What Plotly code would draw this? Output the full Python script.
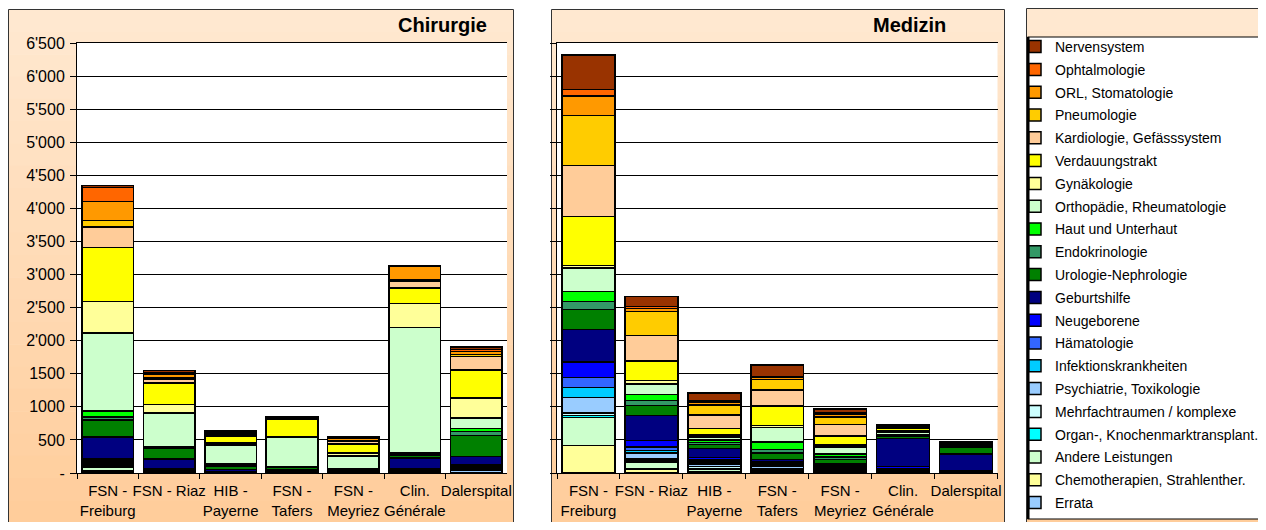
import plotly.graph_objects as go

# page is 1266x530 with the default 8px body margin -> figure 1250x514
OFF = 8
W, H = 1250, 514

# ---------------- data ----------------
hospitals = ["FSN - Freiburg", "FSN - Riaz", "HIB - Payerne", "FSN - Tafers",
             "FSN - Meyriez", "Clin. Générale", "Dalerspital"]
hospital_labels = ["FSN -<br>Freiburg", "FSN - Riaz", "HIB -<br>Payerne", "FSN -<br>Tafers",
                   "FSN -<br>Meyriez", "Clin.<br>Générale", "Dalerspital"]

y_tick_values = [0, 500, 1000, 1500, 2000, 2500, 3000, 3500, 4000, 4500, 5000, 5500, 6000, 6500]
y_tick_labels = ["-", "500", "1000", "1500", "2'000", "2'500", "3'000", "3'500",
                 "4'000", "4'500", "5'000", "5'500", "6'000", "6'500"]

# stacking order: bottom -> top
categories = ["Errata", "Chemotherapien, Strahlenther.", "Andere Leistungen",
              "Organ-, Knochenmarktransplant.", "Mehrfachtraumen / komplexe",
              "Psychiatrie, Toxikologie", "Infektionskrankheiten", "Hämatologie",
              "Neugeborene", "Geburtshilfe", "Urologie-Nephrologie", "Endokrinologie",
              "Haut und Unterhaut", "Orthopädie, Rheumatologie", "Gynäkologie",
              "Verdauungstrakt", "Kardiologie, Gefässsystem", "Pneumologie",
              "ORL, Stomatologie", "Ophtalmologie", "Nervensystem"]

colors = ["#99CCFF", "#FFFF99", "#CCFFCC", "#00FFFF", "#CCFFFF", "#99CCFF", "#00CCFF",
          "#3366FF", "#0000FF", "#000080", "#008000", "#339966", "#00FF00", "#CCFFCC",
          "#FFFF99", "#FFFF00", "#FFCC99", "#FFCC00", "#FF9900", "#FF6600", "#993300"]

# Chirurgie (order of hospitals as above)
chir_errata = [15, 0, 0, 0, 0, 0, 45]
chir_chemo = [20, 10, 5, 5, 5, 5, 10]
chir_andere = [50, 15, 5, 10, 5, 10, 10]
chir_organ = [10, 0, 0, 0, 0, 0, 5]
chir_mehrfach = [25, 10, 5, 5, 5, 10, 10]
chir_psych = [25, 5, 5, 5, 5, 10, 10]
chir_infekt = [20, 5, 0, 5, 5, 10, 5]
chir_haema = [35, 10, 0, 5, 5, 10, 10]
chir_neugeb = [15, 5, 5, 0, 0, 5, 20]
chir_geburt = [330, 150, 25, 20, 15, 170, 125]
chir_uro = [260, 170, 50, 25, 20, 40, 315]
chir_endo = [40, 10, 20, 5, 0, 10, 60]
chir_haut = [95, 10, 20, 10, 5, 25, 45]
chir_ortho = [1175, 510, 280, 445, 190, 1895, 165]
chir_gyn = [480, 125, 35, 10, 45, 365, 300]
chir_verd = [815, 325, 105, 260, 130, 235, 425]
chir_kardio = [310, 50, 25, 15, 45, 100, 200]
chir_pneumo = [95, 25, 10, 5, 15, 15, 30]
chir_orl = [290, 60, 15, 10, 25, 215, 45]
chir_ophtal = [210, 25, 15, 5, 10, 5, 35]
chir_nerv = [30, 30, 10, 10, 15, 5, 35]

# Medizin
med_errata = [0, 10, 0, 5, 0, 0, 0]
med_chemo = [415, 50, 15, 15, 10, 5, 5]
med_andere = [425, 110, 35, 25, 20, 15, 5]
med_organ = [30, 15, 15, 10, 5, 5, 0]
med_mehrfach = [40, 30, 30, 15, 10, 10, 5]
med_psych = [230, 85, 40, 35, 30, 10, 5]
med_infekt = [150, 40, 35, 30, 15, 10, 0]
med_haema = [150, 50, 30, 20, 15, 10, 5]
med_neugeb = [240, 100, 35, 20, 15, 30, 5]
med_geburt = [490, 380, 135, 30, 25, 430, 255]
med_uro = [300, 147, 60, 95, 60, 30, 110]
med_endo = [120, 80, 30, 55, 35, 10, 10]
med_haut = [150, 90, 40, 115, 45, 15, 10]
med_ortho = [360, 158, 45, 215, 110, 35, 10]
med_gyn = [40, 50, 30, 30, 30, 20, 10]
med_verd = [740, 295, 100, 295, 135, 35, 10]
med_kardio = [770, 390, 200, 245, 175, 15, 10]
med_pneumo = [755, 360, 150, 160, 110, 10, 5]
med_orl = [295, 45, 40, 30, 40, 10, 5]
med_ophtal = [95, 30, 20, 10, 20, 5, 5]
med_nerv = [520, 150, 125, 178, 60, 15, 10]

chir_series = [chir_errata, chir_chemo, chir_andere, chir_organ, chir_mehrfach, chir_psych,
               chir_infekt, chir_haema, chir_neugeb, chir_geburt, chir_uro, chir_endo,
               chir_haut, chir_ortho, chir_gyn, chir_verd, chir_kardio, chir_pneumo,
               chir_orl, chir_ophtal, chir_nerv]
med_series = [med_errata, med_chemo, med_andere, med_organ, med_mehrfach, med_psych,
              med_infekt, med_haema, med_neugeb, med_geburt, med_uro, med_endo,
              med_haut, med_ortho, med_gyn, med_verd, med_kardio, med_pneumo,
              med_orl, med_ophtal, med_nerv]

# ---------------- figure ----------------
FONT = "Liberation Sans, Arial, sans-serif"
fig = go.Figure()

n = len(categories)
for i, (name, col, cv, mv) in enumerate(zip(categories, colors, chir_series, med_series)):
    rank = n - i  # top of stack listed first in the legend
    fig.add_trace(go.Bar(x=hospitals, y=cv, name=name, legendgroup=name, legendrank=rank,
                         marker=dict(color=col, line=dict(color="black", width=1.5)),
                         xaxis="x", yaxis="y", showlegend=True))
    fig.add_trace(go.Bar(x=hospitals, y=mv, name=name, legendgroup=name, legendrank=rank,
                         marker=dict(color=col, line=dict(color="black", width=1.5)),
                         xaxis="x2", yaxis="y2", showlegend=False))


def px_x(p):
    return (p - OFF) / W


def px_y(p):
    return 1 - (p - OFF) / H


shapes = []


def lerp(c1, c2, t):
    return "rgb(%d,%d,%d)" % tuple(round(a + (b - a) * t) for a, b in zip(c1, c2))


top_c = (255, 232, 208)
bot_c = (255, 204, 153)


def panel(x0, x1, y0, y1, nb=24):
    step = (y1 - y0) / nb
    for i in range(nb):
        t = i / (nb - 1)
        shapes.append(dict(type="rect", xref="paper", yref="paper", layer="below",
                           x0=px_x(x0), x1=px_x(x1), y0=px_y(y0 + i * step),
                           y1=px_y(y0 + (i + 1) * step + 0.6),
                           fillcolor=lerp(top_c, bot_c, t), line=dict(width=0)))
    shapes.append(dict(type="rect", xref="paper", yref="paper", layer="below",
                       x0=px_x(x0), x1=px_x(x1), y0=px_y(y0), y1=px_y(y1),
                       fillcolor="rgba(0,0,0,0)", line=dict(color="#333333", width=1)))


panel(8.5, 513.5, 9.5, 545)
panel(551.5, 1004.5, 9.5, 545)
panel(1026.5, 1275, 8.5, 545)

# white plot areas
for xr, yr in (("x domain", "y domain"), ("x2 domain", "y2 domain")):
    shapes.append(dict(type="rect", xref=xr, yref=yr, layer="below", x0=0, x1=1, y0=0, y1=1,
                       fillcolor="white", line=dict(width=0)))
# legend body
shapes.append(dict(type="rect", xref="paper", yref="paper", layer="below",
                   x0=px_x(1027.5), x1=px_x(1275), y0=px_y(37), y1=px_y(519),
                   fillcolor="white", line=dict(color="black", width=1)))
shapes.append(dict(type="line", xref="paper", yref="paper", layer="below",
                   x0=px_x(1028.5), x1=px_x(1028.5), y0=px_y(37), y1=px_y(519),
                   line=dict(color="black", width=2)))

yd = [px_y(473), px_y(43)]
common_y = dict(range=[0, 6500], tickvals=y_tick_values, showgrid=True, gridcolor="black",
                gridwidth=1, zeroline=False, showline=True, linecolor="black", linewidth=1,
                ticks="outside", ticklen=6, tickcolor="black", domain=yd, fixedrange=True,
                automargin=False)
common_x = dict(type="category", categoryorder="array", categoryarray=hospitals,
                tickvals=hospitals, ticktext=hospital_labels, tickson="boundaries",
                ticks="outside", ticklen=5, tickcolor="black", showline=True, linecolor="black",
                mirror=True, showgrid=False, range=[-0.5, 6.5], ticklabelstandoff=4,
                automargin=False,
                tickfont=dict(size=15, color="black", family=FONT), tickangle=0)

fig.update_layout(
    width=W, height=H, autosize=False,
    margin=dict(l=0, r=0, t=0, b=0, pad=0, autoexpand=False),
    paper_bgcolor="white", plot_bgcolor="white",
    barmode="stack", bargap=0.16,
    font=dict(family=FONT, color="black"),
    showlegend=True,
    xaxis=dict(common_x, domain=[px_x(77), px_x(507)], anchor="y"),
    xaxis2=dict(common_x, domain=[px_x(557), px_x(997.5)], anchor="y2"),
    yaxis=dict(common_y, ticktext=y_tick_labels, anchor="x",
               tickfont=dict(size=16, color="black", family=FONT), ticklabelstandoff=2),
    yaxis2=dict(common_y, showticklabels=False, anchor="x2"),
    legend=dict(x=px_x(1015), y=px_y(31), xanchor="left", yanchor="top",
                bgcolor="rgba(0,0,0,0)", borderwidth=0,
                font=dict(size=14, color="black", family=FONT),
                traceorder="grouped", tracegroupgap=1.6, itemclick=False,
                itemdoubleclick=False),
    shapes=shapes,
    annotations=[
        dict(text="<b>Chirurgie</b>", xref="paper", yref="paper", x=px_x(489), y=px_y(25),
             xanchor="right", yanchor="middle", showarrow=False,
             font=dict(size=20, color="black", family=FONT)),
        dict(text="<b>Medizin</b>", xref="paper", yref="paper", x=px_x(948), y=px_y(25),
             xanchor="right", yanchor="middle", showarrow=False,
             font=dict(size=20, color="black", family=FONT)),
    ],
)

fig.write_html("out.html", config={"displayModeBar": False})
